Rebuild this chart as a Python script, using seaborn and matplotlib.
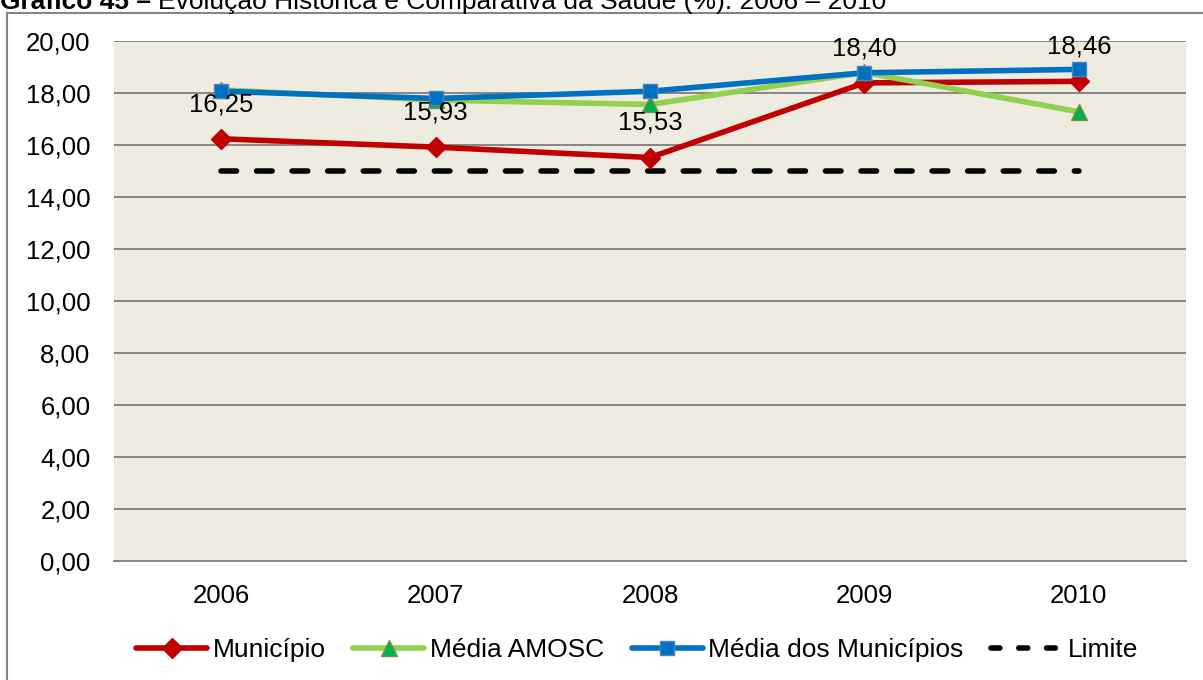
import matplotlib
matplotlib.use("Agg")
import matplotlib.pyplot as plt
import seaborn as sns
import pandas as pd
from matplotlib.lines import Line2D
from matplotlib.ticker import FuncFormatter, MultipleLocator

years = ["2006", "2007", "2008", "2009", "2010"]
municipio = [16.25, 15.93, 15.53, 18.40, 18.46]
media_amosc = [18.13, 17.74, 17.57, 18.80, 17.29]
media_municipios = [18.08, 17.80, 18.08, 18.79, 18.92]
limite = [15.0, 15.0, 15.0, 15.0, 15.0]
series_names = ["Município", "Média AMOSC", "Média dos Municípios", "Limite"]
title_bold = "Gráfico 45 – "
title_rest = "Evolução Histórica e Comparativa da Saúde (%): 2006 – 2010"

sns.set_theme(style="white")
plt.rcParams["font.family"] = ["Liberation Sans", "DejaVu Sans"]
plt.rcParams["text.color"] = "black"

FS = 18.5

df = pd.DataFrame({
    "ano": years * 4,
    "valor": municipio + media_amosc + media_municipios + limite,
    "serie": [s for s in series_names for _ in years],
})

W, H = 1203, 680
fig = plt.figure(figsize=(W / 100, H / 100), dpi=100)
ax = fig.add_axes([114 / W, 1 - 561.3 / H, (1186 - 114) / W, (561.3 - 41.3) / H])
ax.set_facecolor("#EEECE1")

styles = {
    "Município": dict(color="#C00000", marker="D", ms=10, mfc="#C00000", mec="#C00000", lw=4),
    "Média AMOSC": dict(color="#92D050", marker="^", ms=11, mfc="#00B050", mec="#77933C", lw=4),
    "Média dos Municípios": dict(color="#0070C0", marker="s", ms=10, mfc="#0070C0", mec="#4F81BD", lw=4),
    "Limite": dict(color="black", marker=None, lw=4),
}

order = ["Limite", "Município", "Média AMOSC", "Média dos Municípios"]
for name in order:
    st = styles[name]
    sub = df[df["serie"] == name]
    kw = dict(color=st["color"], linewidth=st["lw"], label=name, ax=ax, zorder=3)
    if st["marker"]:
        kw.update(marker=st["marker"], markersize=st["ms"], markerfacecolor=st["mfc"],
                  markeredgecolor=st["mec"], markeredgewidth=1)
    sns.lineplot(data=sub, x="ano", y="valor", **kw)
    if name == "Limite":
        ln = ax.get_lines()[-1]
        ln.set_dashes((2.8, 3.6))
        ln.set_dash_capstyle("round")

for i, v in enumerate(municipio):
    ax.annotate(f"{v:.2f}".replace(".", ","), (i, v), xytext=(0, 25), textcoords="offset points",
                ha="center", va="center", fontsize=FS, color="black", zorder=5)

ax.set_xlim(-0.5, 4.5)
ax.set_ylim(0, 20)
ax.yaxis.set_major_locator(MultipleLocator(2))
ax.yaxis.set_major_formatter(FuncFormatter(lambda v, p: f"{v:.2f}".replace(".", ",")))
ax.grid(axis="y", color="#868686", lw=1.4, zorder=0)
ax.set_axisbelow(True)
for s in ["top", "right", "left"]:
    ax.spines[s].set_visible(False)
ax.spines["bottom"].set_color("#868686")
ax.spines["bottom"].set_linewidth(1.4)
ax.tick_params(axis="both", length=0, labelsize=FS, colors="black")
ax.tick_params(axis="y", pad=17)
ax.tick_params(axis="x", pad=16)
ax.set_xlabel("")
ax.set_ylabel("")
if ax.get_legend():
    ax.get_legend().remove()

handles = []
for name in series_names:
    st = styles[name]
    if st["marker"]:
        h = Line2D([], [], color=st["color"], lw=st["lw"], marker=st["marker"], ms=st["ms"],
                   mfc=st["mfc"], mec=st["mec"])
    else:
        h = Line2D([], [], color=st["color"], lw=st["lw"], dashes=(1.6, 3.4), dash_capstyle="round")
    handles.append(h)
leg = fig.legend(handles, series_names, loc="center", bbox_to_anchor=(637 / W, 1 - 650 / H), ncol=4,
                 frameon=False, fontsize=19, handlelength=2.7, handletextpad=0.2, columnspacing=1.05)
for t in leg.get_texts():
    t.set_color("black")

# outer chart border
fig.add_artist(Line2D([7 / W, 7 / W], [0, 1 - 13 / H], color="#868686", lw=1.5, transform=fig.transFigure))
fig.add_artist(Line2D([7 / W, 1], [1 - 13 / H, 1 - 13 / H], color="#868686", lw=1.5, transform=fig.transFigure))

# cropped caption at top (cut off in the reference as well)
t1 = fig.text(0 / W, 1 - 9 / H, title_bold, fontsize=19, fontweight="bold", va="baseline", ha="left")
fig.canvas.draw()
bb = t1.get_window_extent()
fig.text(bb.x1 / W, 1 - 9 / H, title_rest, fontsize=19, va="baseline", ha="left")

fig.savefig("out.png", dpi=100)
